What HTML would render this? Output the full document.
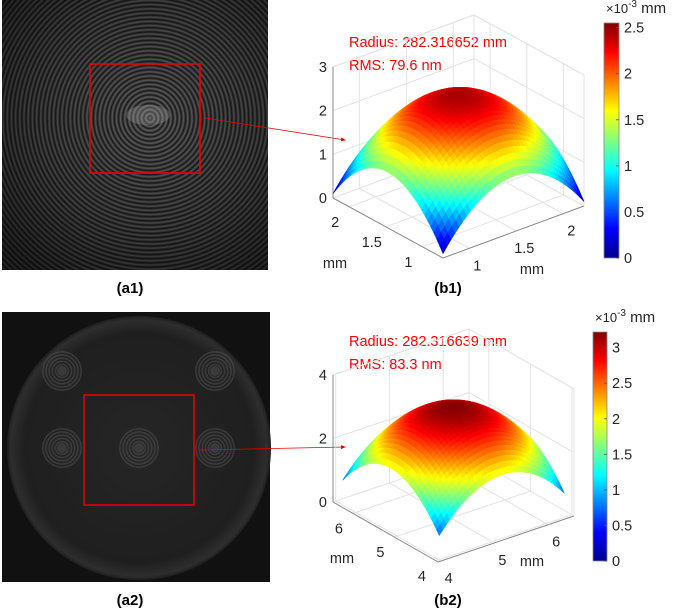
<!DOCTYPE html>
<html><head><meta charset="utf-8">
<style>
html,body{margin:0;padding:0;background:#fff;}
svg{display:block;font-family:"Liberation Sans",Arial,sans-serif;}
</style></head>
<body>
<svg id="fig" width="685" height="608" viewBox="0 0 685 608" xmlns="http://www.w3.org/2000/svg">
<defs>
  <radialGradient id="ringA" gradientUnits="userSpaceOnUse" cx="150" cy="118" r="4.2" spreadMethod="repeat">
    <stop offset="0" stop-color="#bbb"/><stop offset="0.5" stop-color="#111"/><stop offset="1" stop-color="#bbb"/>
  </radialGradient>
  <radialGradient id="fadeA" gradientUnits="userSpaceOnUse" cx="150" cy="118" r="190">
    <stop offset="0" stop-color="#000" stop-opacity="0"/><stop offset="0.6" stop-color="#000" stop-opacity="0.3"/><stop offset="1" stop-color="#000" stop-opacity="0.6"/>
  </radialGradient>
  <radialGradient id="disk2" gradientUnits="userSpaceOnUse" cx="139" cy="448" r="135">
    <stop offset="0" stop-color="#262626"/><stop offset="0.85" stop-color="#1f1f1f"/><stop offset="0.95" stop-color="#2e2e2e"/><stop offset="1" stop-color="#111"/>
  </radialGradient>
  <linearGradient id="jet" x1="0" y1="1" x2="0" y2="0">
    <stop offset="0" stop-color="#00008f"/><stop offset="0.125" stop-color="#0000ff"/>
    <stop offset="0.375" stop-color="#00ffff"/><stop offset="0.625" stop-color="#ffff00"/>
    <stop offset="0.875" stop-color="#ff0000"/><stop offset="1" stop-color="#800000"/>
  </linearGradient>
  <marker id="arr" markerWidth="6" markerHeight="6" refX="5" refY="3" orient="auto"><path d="M0,0.5 L6,3 L0,5.5z" fill="#e00"/></marker>
</defs>

<g>
  <rect x="2" y="0" width="266" height="270" fill="#1c1c1c"/>
  <rect x="2" y="0" width="266" height="270" fill="url(#ringA)" opacity="0.45"/>
  <rect x="2" y="0" width="266" height="270" fill="url(#fadeA)"/>
  <ellipse cx="148" cy="115" rx="22" ry="10" fill="#aaa" opacity="0.3"/>
  <rect x="90" y="64" width="110" height="109" fill="none" stroke="#e00" stroke-width="1.5"/>
</g>
<line x1="205" y1="118" x2="345" y2="140" stroke="#e00" stroke-width="0.8" marker-end="url(#arr)"/>
<text x="130" y="293" font-size="15" font-weight="bold" text-anchor="middle">(a1)</text>

<g id="a2">
  <rect x="2" y="312" width="268" height="270" fill="#111"/>
  <circle cx="139" cy="448" r="132" fill="url(#disk2)"/>
  <rect x="84" y="395" width="110" height="110" fill="none" stroke="#e00" stroke-width="1.5"/>
</g>
<line x1="200" y1="450" x2="345" y2="447" stroke="#e00" stroke-width="0.8" marker-end="url(#arr)"/>
<text x="130" y="605" font-size="15" font-weight="bold" text-anchor="middle">(a2)</text>

<text x="349" y="47" font-size="14.5" fill="#f00">Radius: 282.316652 mm</text>
<text x="349" y="70" font-size="14.5" fill="#f00">RMS: 79.6 nm</text>
<text x="349" y="346" font-size="14.5" fill="#f00">Radius: 282.316639 mm</text>
<text x="349" y="369" font-size="14.5" fill="#f00">RMS: 83.3 nm</text>
<text x="448" y="293" font-size="15" font-weight="bold" text-anchor="middle">(b1)</text>
<text x="448" y="605" font-size="15" font-weight="bold" text-anchor="middle">(b2)</text>

<g id="plots"></g>
</svg>
<script>
const NS="http://www.w3.org/2000/svg";
const b1ZTicks=[0,1,2,3];
const b1XTicks=[1,1.5,2];
const b1YTicks=[1,1.5,2];
const b1Range=[0.72,2.22];
const b1ZMax=3;
const b1Peak=2.45;
const b1Corner=0.1;
const b1CbarTicks=[0,0.5,1,1.5,2,2.5];
const b1CbarMax=2.55;

const b2ZTicks=[0,2,4];
const b2XTicks=[4,5,6];
const b2YTicks=[4,5,6];
const b2Range=[3.95,6.48];
const b2ZMax=4;
const b2Peak=3.2;
const b2Corner=0.7;
const b2CbarTicks=[0,0.5,1,1.5,2,2.5,3];
const b2CbarMax=3.22;

const ringCentersX=[62,215,62,139,215];
const ringCentersY=[371,371,448,448,448];

function mk(tag,attrs,parent){const e=document.createElementNS(NS,tag);for(const k in attrs)e.setAttribute(k,attrs[k]);parent.appendChild(e);return e;}
function clamp(v){return Math.max(0,Math.min(1,v));}
function jet(t){const r=clamp(1.5-Math.abs(4*t-3)),g=clamp(1.5-Math.abs(4*t-2)),b=clamp(1.5-Math.abs(4*t-1));
  return `rgb(${Math.round(r*255)},${Math.round(g*255)},${Math.round(b*255)})`;}

const a2=document.getElementById('a2');
const defs=document.querySelector('defs');
ringCentersX.forEach((cx,i)=>{
  const cy=ringCentersY[i];
  const gid='rg'+i;
  const rg=mk('radialGradient',{id:gid,gradientUnits:'userSpaceOnUse',cx:cx,cy:cy,r:3.2,spreadMethod:'repeat'},defs);
  mk('stop',{offset:0,'stop-color':'#666'},rg);mk('stop',{offset:0.5,'stop-color':'#1a1a1a'},rg);mk('stop',{offset:1,'stop-color':'#666'},rg);
  const c=mk('circle',{cx:cx,cy:cy,r:20,fill:`url(#${gid})`,opacity:0.45},a2);
  
  
  const d=mk('circle',{cx:cx,cy:cy,r:5,fill:'#3a3a3a'},a2);
  
  
});

function plot(cfg){
  const g=mk('g',{},document.getElementById('plots'));
  
  
  const F=cfg.front,R=cfg.right,L=cfg.left,zpx=cfg.zpx;
  const P=(u,v,z)=>[F[0]+u*(R[0]-F[0])+v*(L[0]-F[0]), F[1]+u*(R[1]-F[1])+v*(L[1]-F[1])-z*zpx];
  const line=(a,b,col,w,name)=>{const l=mk('line',{x1:a[0],y1:a[1],x2:b[0],y2:b[1],stroke:col,'stroke-width':w},g);
    
    };
  const toU=val=>(val-cfg.range[0])/(cfg.range[1]-cfg.range[0]);
  const grid='#e3e3e3';
  cfg.zTicks.forEach(z=>{line(P(0,1,z),P(1,1,z),grid,1,'grid-z');line(P(1,1,z),P(1,0,z),grid,1,'grid-z');});
  cfg.xTicks.forEach(x=>{const u=toU(x);line(P(u,0,0),P(u,1,0),grid,1,'grid-x');line(P(u,1,0),P(u,1,cfg.zMax),grid,1,'grid-x');});
  cfg.yTicks.forEach(y=>{const v=toU(y);line(P(0,v,0),P(1,v,0),grid,1,'grid-y');line(P(1,v,0),P(1,v,cfg.zMax),grid,1,'grid-y');});
  line(P(1,1,0),P(1,1,cfg.zMax),grid,1,'box-edge');
  line(P(0,1,cfg.zMax),P(1,1,cfg.zMax),grid,1,'box-edge');
  line(P(1,1,cfg.zMax),P(1,0,cfg.zMax),grid,1,'box-edge');
  line(P(1,0,0),P(1,0,cfg.zMax),grid,1,'box-edge');
  line(P(0,1,0),P(0,1,cfg.zMax),'#888',1,'z-axis');
  line(P(0,0,0),P(1,0,0),'#888',1,'x-axis');
  line(P(0,0,0),P(0,1,0),'#888',1,'y-axis');
  const txt=(p,s,name,anchor)=>{const t=mk('text',{x:p[0],y:p[1],'font-size':14.5,fill:'#262626','text-anchor':anchor||'middle'},g);t.textContent=s;
    
    };
  cfg.zTicks.forEach(z=>{const p=P(0,1,z);txt([p[0]-6,p[1]+5],String(z),'z-tick-label','end');});
  cfg.xTicks.forEach(x=>{const p=P(toU(x),0,0);txt([p[0]+8,p[1]+22],String(x),'x-tick-label');});
  cfg.yTicks.forEach(y=>{const p=P(0,toU(y),0);txt([p[0]-14,p[1]+20],String(y),'y-tick-label');});
  txt(cfg.xLabelPos,'mm','x-axis-title');
  txt(cfg.yLabelPos,'mm','y-axis-title');
  const N=36,a=cfg.dom[0],b=cfg.dom[1];
  const zf=(u,v)=>{const s=(u-a)/(b-a),t=(v-a)/(b-a);return cfg.corner+(cfg.peak-cfg.corner)*(1-((s-.5)**2+(t-.5)**2)/0.5);};
  const cells=[];
  for(let i=0;i<N;i++)for(let j=0;j<N;j++)cells.push([i,j]);
  cells.sort((p,q)=>(q[0]+q[1])-(p[0]+p[1]));
  const sg=mk('g',{},g);
  
  
  cells.forEach(([i,j])=>{
    const u0=a+(b-a)*i/N,u1=a+(b-a)*(i+1)/N,v0=a+(b-a)*j/N,v1=a+(b-a)*(j+1)/N;
    const pts=[[u0,v0],[u1,v0],[u1,v1],[u0,v1]].map(([u,v])=>P(u,v,zf(u,v)).map(n=>n.toFixed(1)).join(',')).join(' ');
    const zc=zf((u0+u1)/2,(v0+v1)/2);
    const col=jet(zc/cfg.cmax);
    const poly=mk('polygon',{points:pts,fill:col,stroke:col,'stroke-width':0.6},sg);
    
    
  });
  const cb=cfg.cbar;
  const r=mk('rect',{x:cb.x,y:cb.y0,width:cb.w,height:cb.y1-cb.y0,fill:'url(#jet)',stroke:'#888','stroke-width':0.8},g);
  
  
  cfg.cbTicks.forEach(t=>{const y=cb.y1-(cb.y1-cb.y0)*t/cfg.cmax;
    line([cb.x+cb.w-3,y],[cb.x+cb.w,y],'#555',0.8,'colorbar-tick');
    txt([cb.x+cb.w+5,y+5],String(t),'colorbar-tick-label','start');});
  const u=mk('text',{x:cb.x+2,y:cb.y0-10,'font-size':13,fill:'#262626'},g);
  u.innerHTML='×10<tspan dy="-6" font-size="10">-3</tspan><tspan dy="6" font-size="15"> mm</tspan>';
  
  
}
plot({name:'surface-plot-b1',front:[443,258],right:[584,206],left:[333,198],zpx:43.7,range:b1Range,zMax:b1ZMax,
  zTicks:b1ZTicks,xTicks:b1XTicks,yTicks:b1YTicks,xLabelPos:[532,274],yLabelPos:[335,268],dom:[0,1],peak:b1Peak,corner:b1Corner,
  cmax:b1CbarMax,cbTicks:b1CbarTicks,cbar:{x:604,w:15,y0:23,y1:258}});
plot({name:'surface-plot-b2',front:[438,562],right:[574,516],left:[333,502],zpx:31.75,range:b2Range,zMax:b2ZMax,
  zTicks:b2ZTicks,xTicks:b2XTicks,yTicks:b2YTicks,xLabelPos:[532,566],yLabelPos:[342,563],dom:[0.04,0.96],peak:b2Peak,corner:b2Corner,
  cmax:b2CbarMax,cbTicks:b2CbarTicks,cbar:{x:593,w:14,y0:332,y1:561}});
</script>
</body></html>
